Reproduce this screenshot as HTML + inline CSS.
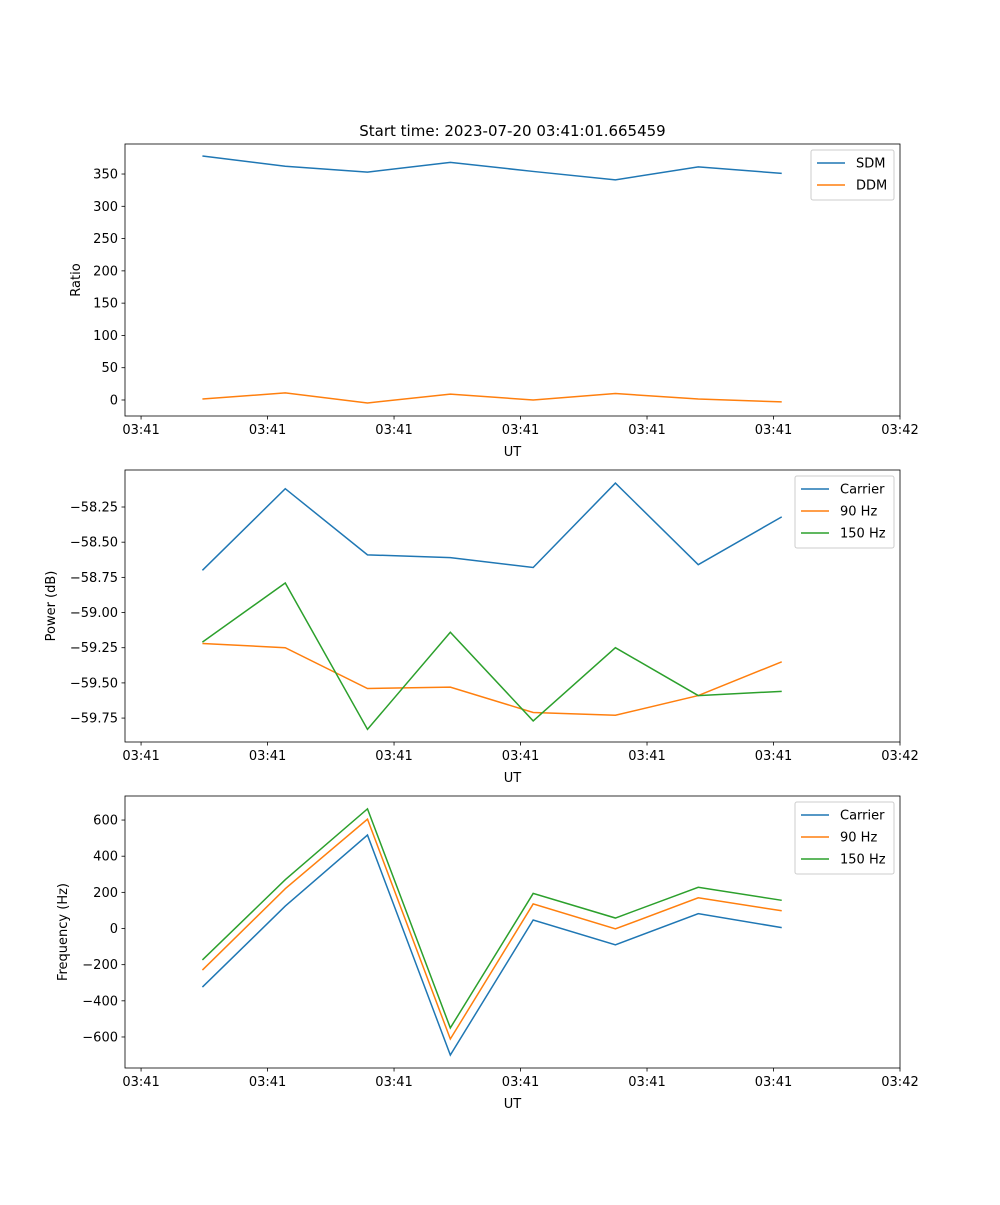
<!DOCTYPE html>
<html><head><meta charset="utf-8"><style>
body{margin:0;background:#fff}
svg text{font-family:"DejaVu Sans","Liberation Sans",sans-serif;fill:#000}
</style></head><body>
<svg id="fig" width="1000" height="1200" xmlns="http://www.w3.org/2000/svg"></svg>
<script>
// Data (seconds after 03:41:00)
const times = [4.85, 11.4, 17.9, 24.45, 31.0, 37.5, 44.05, 50.65];
const xTickVals = [0, 10, 20, 30, 40, 50, 60];
const xTickLabels = ["03:41","03:41","03:41","03:41","03:41","03:41","03:42"];
const sdm = [378, 362, 353, 368, 354, 341, 361, 351];
const ddm = [1.5, 11, -4.6, 9, 0, 10, 1.5, -3];
const powCarrier = [-58.70, -58.12, -58.59, -58.61, -58.68, -58.08, -58.66, -58.32];
const pow90 = [-59.22, -59.25, -59.54, -59.53, -59.71, -59.73, -59.59, -59.35];
const pow150 = [-59.21, -58.79, -59.83, -59.14, -59.77, -59.25, -59.59, -59.56];
const freqCarrier = [-324, 124, 517, -700, 47, -90, 82, 5];
const freq90 = [-230, 220, 605, -611, 136, -2, 170, 98];
const freq150 = [-174, 270, 662, -550, 194, 58, 228, 156];
const ratioTicks = [0, 50, 100, 150, 200, 250, 300, 350];
const powTicks = [-59.75, -59.5, -59.25, -59.0, -58.75, -58.5, -58.25];
const freqTicks = [-600, -400, -200, 0, 200, 400, 600];

const NS = "http://www.w3.org/2000/svg";
const fig = document.getElementById("fig");
function mk(tag, attrs, parent){const e=document.createElementNS(NS,tag);for(const k in attrs)e.setAttribute(k,attrs[k]);(parent||fig).appendChild(e);return e;}
const L=125,R=900;
const xScale = v => L + (v - (-1.27)) / (60 - (-1.27)) * (R - L);
const colors = ["#1f77b4","#ff7f0e","#2ca02c"];
const minus = s => s.replace("-","\u2212");

function panel(name, top, bot, ymin, ymax, yticks, fmt, ylabel, ylabelX, series, names, legW, title){
  const g = mk("g",{});
  
  
  const ys = v => bot - (v - ymin) / (ymax - ymin) * (bot - top);
  series.forEach((s,i)=>{
    const p = mk("polyline",{points:s.map((v,j)=>xScale(times[j])+","+ys(v)).join(" "),fill:"none",stroke:colors[i],"stroke-width":1.5},g);
    
    
  });
  mk("rect",{x:L,y:top,width:R-L,height:bot-top,fill:"none",stroke:"#000","stroke-width":0.8},g);
  xTickVals.forEach((v,i)=>{
    const x=xScale(v);
    mk("line",{x1:x,x2:x,y1:bot,y2:bot+3.5,stroke:"#000","stroke-width":0.8},g);
    const t=mk("text",{x:x,y:bot+18,"font-size":13,"text-anchor":"middle"},g);t.textContent=xTickLabels[i];
    
    
  });
  yticks.forEach(v=>{
    const y=ys(v);
    mk("line",{x1:L-3.5,x2:L,y1:y,y2:y,stroke:"#000","stroke-width":0.8},g);
    const t=mk("text",{x:L-7,y:y+4.5,"font-size":13,"text-anchor":"end"},g);t.textContent=minus(fmt(v));
    
    
  });
  const xl=mk("text",{x:(L+R)/2,y:bot+40,"font-size":13,"text-anchor":"middle"},g);xl.textContent="UT";
  
  
  const cy=(top+bot)/2;
  const yl=mk("text",{x:ylabelX,y:cy,"font-size":13,"text-anchor":"middle",transform:`rotate(-90 ${ylabelX} ${cy})`},g);yl.textContent=ylabel;
  
  
  if(title){const tt=mk("text",{x:(L+R)/2,y:top-8,"font-size":15,"text-anchor":"middle"},g);tt.textContent=title;
    
    }
  const lx=R-6-legW, ly=top+6, lh=names.length*22+6;
  const lg=mk("g",{},g);
  
  
  mk("rect",{x:lx,y:ly,width:legW,height:lh,fill:"#fff",stroke:"#ccc","stroke-width":1,rx:2},lg);
  names.forEach((n,i)=>{
    const y=ly+13+i*22;
    mk("line",{x1:lx+6,x2:lx+34,y1:y,y2:y,stroke:colors[i],"stroke-width":1.5},lg);
    const t=mk("text",{x:lx+45,y:y+4.5,"font-size":13},lg);t.textContent=n;
    
    
  });
}
panel("ratio-panel",144,416,-24.8,396.5,ratioTicks,v=>String(v),"Ratio",80,[sdm,ddm],["SDM","DDM"],83,"Start time: 2023-07-20 03:41:01.665459");
panel("power-panel",470,742,-59.92,-57.987,powTicks,v=>v.toFixed(2),"Power (dB)",55,[powCarrier,pow90,pow150],["Carrier","90 Hz","150 Hz"],99,null);
panel("frequency-panel",796,1068,-771.6,733,freqTicks,v=>String(v),"Frequency (Hz)",67,[freqCarrier,freq90,freq150],["Carrier","90 Hz","150 Hz"],99,null);
</script>
</body></html>
